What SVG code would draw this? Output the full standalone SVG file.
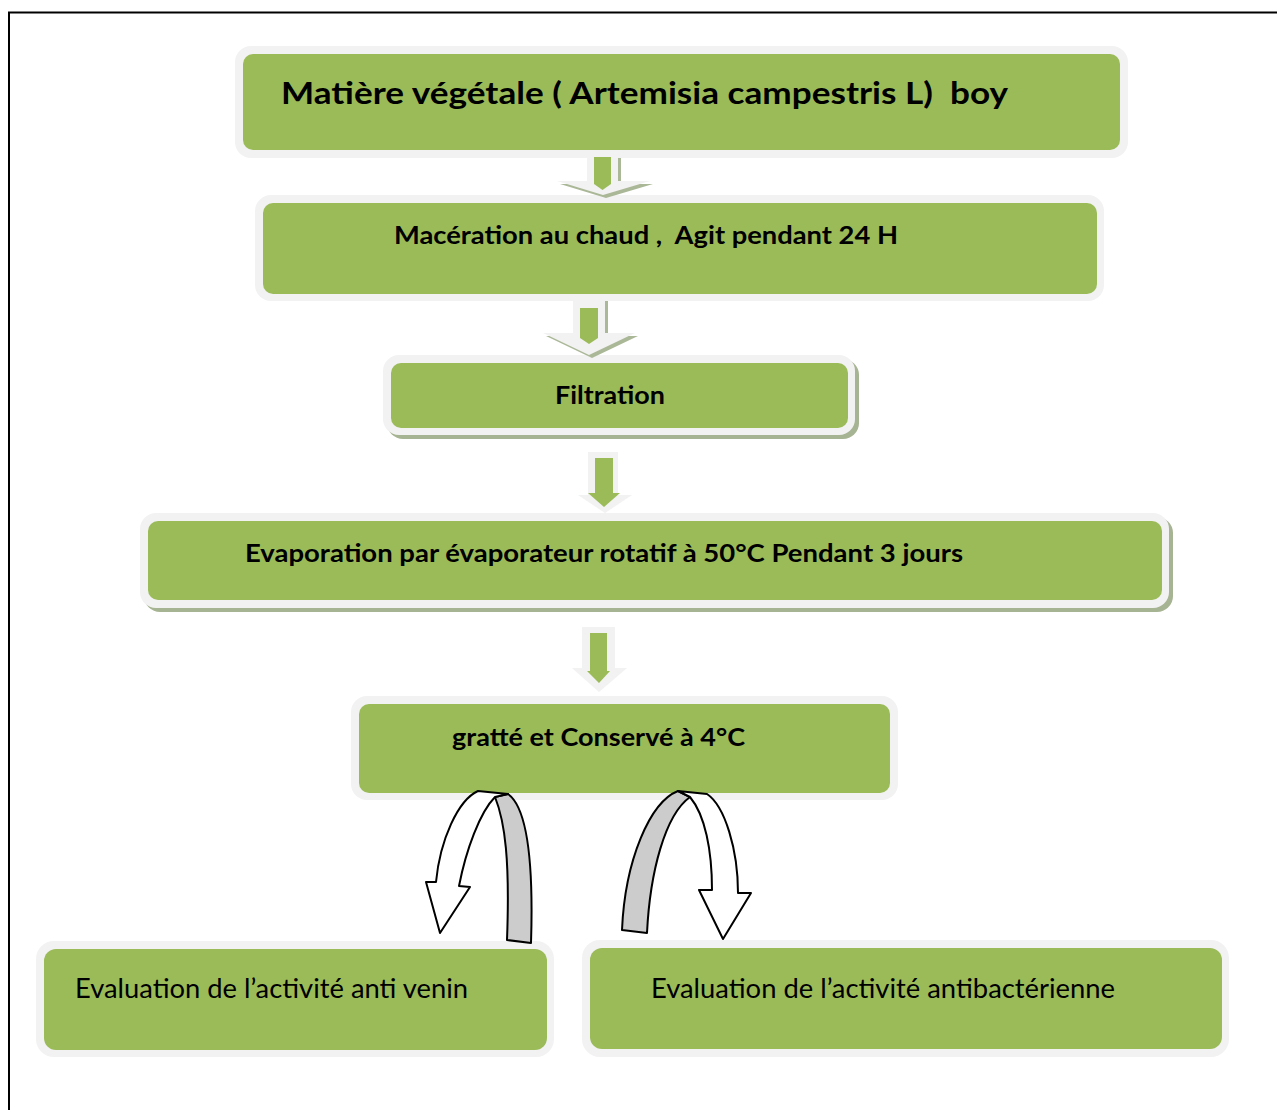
<svg xmlns="http://www.w3.org/2000/svg" width="1277" height="1110" viewBox="0 0 1277 1110">
<style>
.outer{fill:#F2F2F2}
.inner{fill:#9BBB59}
.shadow{fill:#A7B493}
.t{font-family:Lato,"Open Sans","Liberation Sans",sans-serif;fill:#000;white-space:pre}
.b{font-weight:bold}
.ao{fill:#F2F2F2}
.ag{fill:#9BBB59}
.as{fill:#ABB898}
.cw{fill:#FFFFFF;stroke:#000;stroke-width:2;stroke-linejoin:round}
.cg{fill:#CCCCCC;stroke:#000;stroke-width:2;stroke-linejoin:round}
</style>
<rect x="0" y="0" width="1277" height="1110" fill="#FFFFFF"/>
<rect x="9" y="12.5" width="1300" height="1200" fill="none" stroke="#000" stroke-width="2"/>

<g id="n1">
<rect class="outer" x="235" y="46" width="893" height="112" rx="16"/>
<rect class="inner" x="243" y="54" width="877" height="96" rx="10"/>
<text class="t b" x="281" y="104" font-size="30" textLength="727" lengthAdjust="spacingAndGlyphs" xml:space="preserve">Matière végétale ( Artemisia campestris L)  boy</text>
</g>
<g id="n2">
<rect class="outer" x="255" y="195" width="849" height="106" rx="16"/>
<rect class="inner" x="263" y="203" width="834" height="91" rx="10"/>
<text class="t b" x="394" y="244" font-size="24" textLength="504" lengthAdjust="spacingAndGlyphs" xml:space="preserve">Macération au chaud ,  Agit pendant 24 H</text>
</g>
<g id="n3">
<rect class="shadow" x="387" y="359" width="472" height="80" rx="16"/>
<rect class="outer" x="383" y="355" width="472" height="80" rx="16"/>
<rect class="inner" x="391" y="363" width="457" height="65" rx="10"/>
<text class="t b" x="555" y="404" font-size="25" textLength="110" lengthAdjust="spacingAndGlyphs">Filtration</text>
</g>
<g id="n4">
<rect class="shadow" x="144" y="517" width="1029" height="95" rx="16"/>
<rect class="outer" x="140" y="513" width="1029" height="95" rx="16"/>
<rect class="inner" x="148" y="521" width="1014" height="79" rx="10"/>
<text class="t b" x="245" y="562" font-size="24" textLength="718" lengthAdjust="spacingAndGlyphs">Evaporation par évaporateur rotatif à 50°C Pendant 3 jours</text>
</g>
<g id="n5">
<rect class="outer" x="351" y="696" width="547" height="104" rx="16"/>
<rect class="inner" x="359" y="704" width="531" height="89" rx="10"/>
<text class="t b" x="452" y="746" font-size="24" textLength="293" lengthAdjust="spacingAndGlyphs">gratté et Conservé à 4°C</text>
</g>
<g id="n6">
<rect class="outer" x="36" y="941" width="518" height="116" rx="18"/>
<rect class="inner" x="44" y="949" width="503" height="101" rx="12"/>
<text class="t" x="75" y="998" font-size="26" textLength="393" lengthAdjust="spacingAndGlyphs">Evaluation de l’activité anti venin</text>
</g>
<g id="n7">
<rect class="outer" x="582" y="940" width="647" height="117" rx="18"/>
<rect class="inner" x="590" y="948" width="632" height="101" rx="12"/>
<text class="t" x="651" y="998" font-size="26" textLength="464" lengthAdjust="spacingAndGlyphs">Evaluation de l’activité antibactérienne</text>
</g>

<g id="connectors">
<g id="a1">
<polygon class="as" points="590,158 621,158 621,184 653,184 606,198 560,184 590,184"/>
<polygon class="ao" points="587,155 618,155 618,181 650,181 603,195 557,181 587,181"/>
<polygon class="ag" points="594,157 611,157 611,184 602.5,190 594,184"/>
</g>
<g id="a2">
<polygon class="as" points="576,301 608,301 608,336 638,336 592,358 546,336 576,336"/>
<polygon class="ao" points="573,298 605,298 605,333 635,333 589,355 543,333 573,333"/>
<polygon class="ag" points="580,308 598,308 598,338 589,344 580,338"/>
</g>
<g id="a3">
<polygon class="ao" points="588,452 618,452 618,495 632,495 605,513 578,495 588,495"/>
<polygon class="ag" points="595,458 613,458 613,493 620,493 604,507 588,493 595,493"/>
</g>
<g id="a4">
<polygon class="ao" points="582,627 615,627 615,668 627,668 599,692 572,668 582,668"/>
<polygon class="ag" points="590,633 607,633 607,671 610,671 599,683 587,671 590,671"/>
</g>
<g id="c1">
<path class="cg" d="M508,794 C525,806 534,850 531,943 L507,940 C510,860 505,822 495,797 Z"/>
<path class="cw" d="M478,791 L508,794 L495,797 C480,812 466,850 459,886 L470,887 L440,933 L426,882 L436,882 C440,840 458,800 478,791 Z"/>
</g>
<g id="c2">
<path class="cg" d="M678,791 C650,802 625,860 622,930 L647,933 C650,872 665,815 690,797 Z"/>
<path class="cw" d="M678,791 L707,794 C725,806 738,850 738,893 L751,893 L723,939 L699,890 L712,890 C712,850 705,815 690,797 Z"/>
</g>
</g>
</svg>
